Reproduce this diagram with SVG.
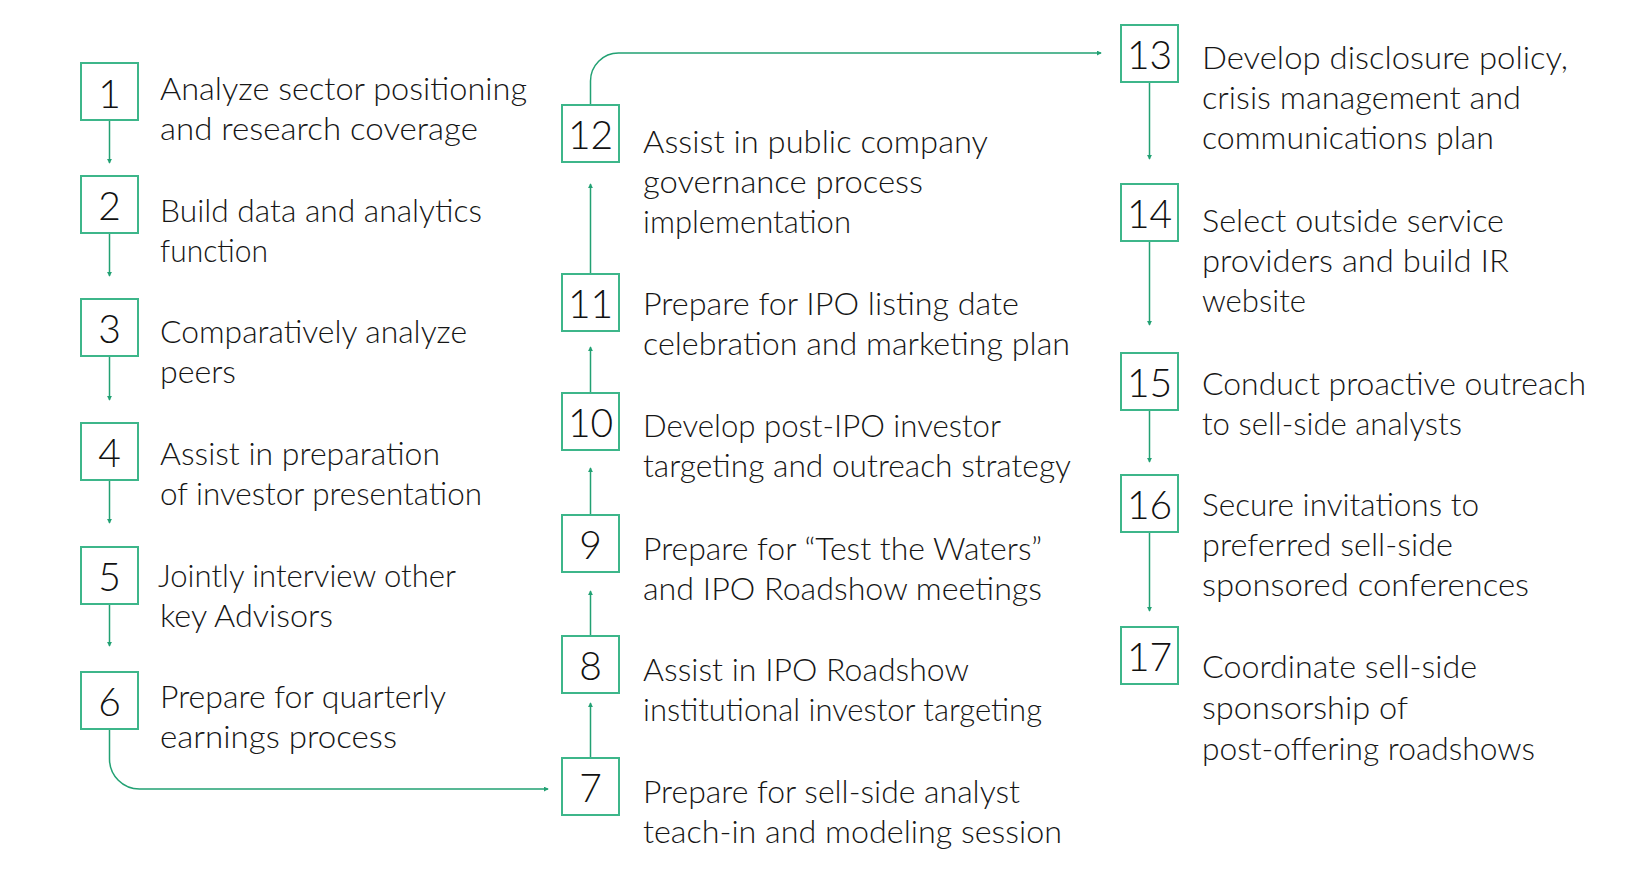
<svg xmlns="http://www.w3.org/2000/svg" width="1635" height="896" viewBox="0 0 1635 896">
<style>
.box{fill:#ffffff;stroke:#3db68a;stroke-width:2}
.num{font-family:Lato,"Liberation Sans",sans-serif;font-weight:300;font-size:39px;fill:#111;text-anchor:middle}
.t{font-family:Lato,"Liberation Sans",sans-serif;font-weight:300;font-size:32px;fill:#161616}
.c{fill:none;stroke:#22a173;stroke-width:1.5}
</style>
<defs>
<marker id="ah" viewBox="0 0 6 6" refX="5" refY="3" markerWidth="5" markerHeight="5" markerUnits="userSpaceOnUse" orient="auto">
<path d="M0,0 L6,3 L0,6 z" fill="#22a173"/>
</marker>
</defs>
<rect width="1635" height="896" fill="#ffffff"/>
<g id="connectors">
<path class="c" marker-end="url(#ah)" d="M109.5 120 V163"/>
<path class="c" marker-end="url(#ah)" d="M109.5 233 V276"/>
<path class="c" marker-end="url(#ah)" d="M109.5 356 V400"/>
<path class="c" marker-end="url(#ah)" d="M109.5 480 V523"/>
<path class="c" marker-end="url(#ah)" d="M109.5 604 V646"/>
<path class="c" marker-end="url(#ah)" d="M109.5 729 V759 A30 30 0 0 0 139.5 789 H548"/>
<path class="c" marker-end="url(#ah)" d="M590.5 758 V703"/>
<path class="c" marker-end="url(#ah)" d="M590.5 636 V591"/>
<path class="c" marker-end="url(#ah)" d="M590.5 515 V468"/>
<path class="c" marker-end="url(#ah)" d="M590.5 393 V347"/>
<path class="c" marker-end="url(#ah)" d="M590.5 274 V184"/>
<path class="c" marker-end="url(#ah)" d="M590.5 105 V81 A28 28 0 0 1 618.5 53 H1101"/>
<path class="c" marker-end="url(#ah)" d="M1149.5 82 V159"/>
<path class="c" marker-end="url(#ah)" d="M1149.5 241 V325"/>
<path class="c" marker-end="url(#ah)" d="M1149.5 410 V462"/>
<path class="c" marker-end="url(#ah)" d="M1149.5 532 V611"/>
</g>
<g id="n1"><rect class="box" x="81" y="63" width="57" height="57"/><text class="num" x="109.5" y="108">1</text>
<text class="t" x="160" y="100" textLength="367" lengthAdjust="spacingAndGlyphs">Analyze sector positioning</text>
<text class="t" x="160" y="140" textLength="318" lengthAdjust="spacingAndGlyphs">and research coverage</text></g>
<g id="n2"><rect class="box" x="81" y="176" width="57" height="57"/><text class="num" x="109.5" y="220">2</text>
<text class="t" x="160" y="222" textLength="322" lengthAdjust="spacingAndGlyphs">Build data and analytics</text>
<text class="t" x="160" y="262" textLength="108" lengthAdjust="spacingAndGlyphs">function</text></g>
<g id="n3"><rect class="box" x="81" y="299" width="57" height="57"/><text class="num" x="109.5" y="343">3</text>
<text class="t" x="160" y="343" textLength="307" lengthAdjust="spacingAndGlyphs">Comparatively analyze</text>
<text class="t" x="160" y="383" textLength="76" lengthAdjust="spacingAndGlyphs">peers</text></g>
<g id="n4"><rect class="box" x="81" y="423" width="57" height="57"/><text class="num" x="109.5" y="467">4</text>
<text class="t" x="160" y="465" textLength="280" lengthAdjust="spacingAndGlyphs">Assist in preparation</text>
<text class="t" x="160" y="505" textLength="322" lengthAdjust="spacingAndGlyphs">of investor presentation</text></g>
<g id="n5"><rect class="box" x="81" y="547" width="57" height="57"/><text class="num" x="109.5" y="591">5</text>
<text class="t" x="158" y="587" textLength="298" lengthAdjust="spacingAndGlyphs">Jointly interview other</text>
<text class="t" x="160" y="627" textLength="173" lengthAdjust="spacingAndGlyphs">key Advisors</text></g>
<g id="n6"><rect class="box" x="81" y="672" width="57" height="57"/><text class="num" x="109.5" y="716">6</text>
<text class="t" x="160" y="708" textLength="286" lengthAdjust="spacingAndGlyphs">Prepare for quarterly</text>
<text class="t" x="160" y="748" textLength="237" lengthAdjust="spacingAndGlyphs">earnings process</text></g>
<g id="n7"><rect class="box" x="562" y="758" width="57" height="57"/><text class="num" x="590.5" y="802">7</text>
<text class="t" x="643" y="803" textLength="377" lengthAdjust="spacingAndGlyphs">Prepare for sell-side analyst</text>
<text class="t" x="643" y="843" textLength="419" lengthAdjust="spacingAndGlyphs">teach-in and modeling session</text></g>
<g id="n8"><rect class="box" x="562" y="636" width="57" height="57"/><text class="num" x="590.5" y="680">8</text>
<text class="t" x="643" y="681" textLength="326" lengthAdjust="spacingAndGlyphs">Assist in IPO Roadshow</text>
<text class="t" x="643" y="721" textLength="399" lengthAdjust="spacingAndGlyphs">institutional investor targeting</text></g>
<g id="n9"><rect class="box" x="562" y="515" width="57" height="57"/><text class="num" x="590.5" y="559">9</text>
<text class="t" x="643" y="560" textLength="399" lengthAdjust="spacingAndGlyphs">Prepare for “Test the Waters”</text>
<text class="t" x="643" y="600" textLength="399" lengthAdjust="spacingAndGlyphs">and IPO Roadshow meetings</text></g>
<g id="n10"><rect class="box" x="562" y="393" width="57" height="57"/><text class="num" x="590.5" y="437">10</text>
<text class="t" x="643" y="437" textLength="358" lengthAdjust="spacingAndGlyphs">Develop post-IPO investor</text>
<text class="t" x="643" y="477" textLength="428" lengthAdjust="spacingAndGlyphs">targeting and outreach strategy</text></g>
<g id="n11"><rect class="box" x="562" y="274" width="57" height="57"/><text class="num" x="590.5" y="318">11</text>
<text class="t" x="643" y="315" textLength="376" lengthAdjust="spacingAndGlyphs">Prepare for IPO listing date</text>
<text class="t" x="643" y="355" textLength="427" lengthAdjust="spacingAndGlyphs">celebration and marketing plan</text></g>
<g id="n12"><rect class="box" x="562" y="105" width="57" height="57"/><text class="num" x="590.5" y="149">12</text>
<text class="t" x="643" y="153" textLength="345" lengthAdjust="spacingAndGlyphs">Assist in public company</text>
<text class="t" x="643" y="193" textLength="280" lengthAdjust="spacingAndGlyphs">governance process</text>
<text class="t" x="643" y="233" textLength="208" lengthAdjust="spacingAndGlyphs">implementation</text></g>
<g id="n13"><rect class="box" x="1121" y="25" width="57" height="57"/><text class="num" x="1149.5" y="69">13</text>
<text class="t" x="1202" y="69" textLength="366" lengthAdjust="spacingAndGlyphs">Develop disclosure policy,</text>
<text class="t" x="1202" y="109" textLength="319" lengthAdjust="spacingAndGlyphs">crisis management and</text>
<text class="t" x="1202" y="149" textLength="292" lengthAdjust="spacingAndGlyphs">communications plan</text></g>
<g id="n14"><rect class="box" x="1121" y="184" width="57" height="57"/><text class="num" x="1149.5" y="228">14</text>
<text class="t" x="1202" y="232" textLength="302" lengthAdjust="spacingAndGlyphs">Select outside service</text>
<text class="t" x="1202" y="272" textLength="307" lengthAdjust="spacingAndGlyphs">providers and build IR</text>
<text class="t" x="1202" y="312" textLength="104" lengthAdjust="spacingAndGlyphs">website</text></g>
<g id="n15"><rect class="box" x="1121" y="353" width="57" height="57"/><text class="num" x="1149.5" y="397">15</text>
<text class="t" x="1202" y="395" textLength="384" lengthAdjust="spacingAndGlyphs">Conduct proactive outreach</text>
<text class="t" x="1202" y="435" textLength="260" lengthAdjust="spacingAndGlyphs">to sell-side analysts</text></g>
<g id="n16"><rect class="box" x="1121" y="475" width="57" height="57"/><text class="num" x="1149.5" y="519">16</text>
<text class="t" x="1202" y="516" textLength="277" lengthAdjust="spacingAndGlyphs">Secure invitations to</text>
<text class="t" x="1202" y="556" textLength="251" lengthAdjust="spacingAndGlyphs">preferred sell-side</text>
<text class="t" x="1202" y="596" textLength="327" lengthAdjust="spacingAndGlyphs">sponsored conferences</text></g>
<g id="n17"><rect class="box" x="1121" y="627" width="57" height="57"/><text class="num" x="1149.5" y="671">17</text>
<text class="t" x="1202" y="678" textLength="275" lengthAdjust="spacingAndGlyphs">Coordinate sell-side</text>
<text class="t" x="1202" y="719" textLength="206" lengthAdjust="spacingAndGlyphs">sponsorship of</text>
<text class="t" x="1202" y="760" textLength="333" lengthAdjust="spacingAndGlyphs">post-offering roadshows</text></g>
</svg>
